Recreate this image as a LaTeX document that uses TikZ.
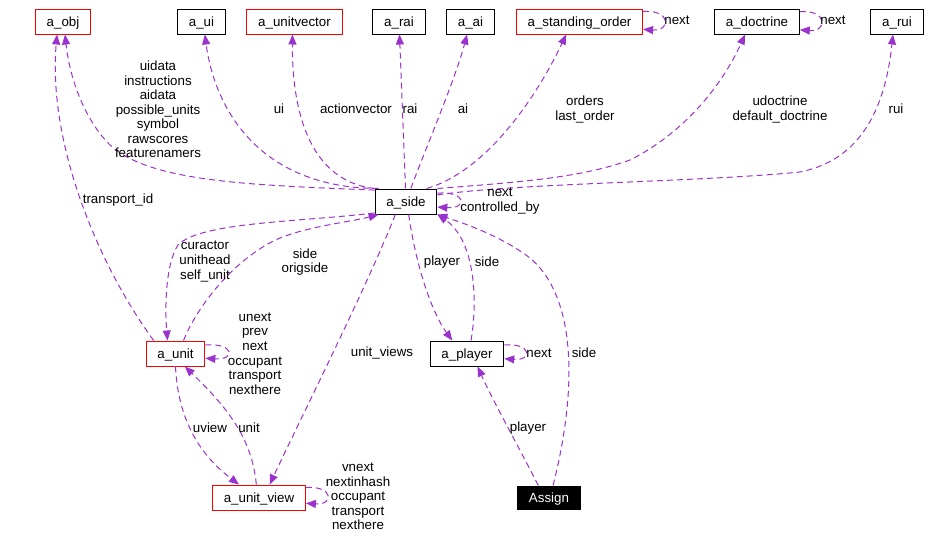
\documentclass[tikz,border=0pt]{standalone}
\usepackage{fontspec}
\setmainfont{Liberation Sans}
\usetikzlibrary{arrows.meta}
\definecolor{lienviolet}{RGB}{154,50,205}
\tikzset{
	boite/.style={draw=black, line width=0.75pt, minimum height=18.75pt, inner xsep=8.4pt, inner ysep=0pt, text height=8.1pt, text depth=0.3pt, font=\fontsize{10}{12}\selectfont},
	boiterouge/.style={boite, draw=red},
	lien/.style={draw=lienviolet, line width=0.75pt, dash pattern=on 4.5pt off 3pt, -{Triangle[length=7.5pt,width=6pt]}},
	etiq/.style={align=center, inner sep=0pt, font=\fontsize{10}{10.9}\selectfont},
}
\begin{document}
\begin{tikzpicture}[x=0.75pt,y=-0.75pt]
		\useasboundingbox (0,0) rectangle (929,540);
		%classes
		\node[boiterouge] (aobj) at (63,21.5) {a\_obj};
		\node[boite] (aui) at (201.5,21.5) {a\_ui};
		\node[boiterouge] (aunitvector) at (294.5,21.5) {a\_unitvector};
		\node[boite] (arai) at (399,21.5) {a\_rai};
		\node[boite] (aai) at (470.5,21.5) {a\_ai};
		\node[boiterouge] (astanding) at (579.5,21.5) {a\_standing\_order};
		\node[boite] (adoctrine) at (757,21.5) {a\_doctrine};
		\node[boite] (arui) at (897,21.5) {a\_rui};
		\node[boite] (aside) at (406,201.5) {a\_side};
		\node[boiterouge] (aunit) at (175.5,353.5) {a\_unit};
		\node[boite] (aplayer) at (467,353.5) {a\_player};
		\node[boiterouge] (aunitview) at (259,497.5) {a\_unit\_view};
		\node[boite, minimum height=17.25pt, fill=black, text=white] (assign) at (549,497.5) {Assign};
		%liens vers le haut
		\draw[lien] (aside.160) .. controls (250,185) and (150,182) .. (110,145) .. controls (85,120) and (70,80) .. ([xshift=1.5pt]aobj.south);
		\draw[lien] ([xshift=6pt]aunit.north west) .. controls (95,260) and (48,140) .. ([xshift=-4.5pt]aobj.south);
		\draw[lien] ([xshift=3pt]aside.north west) .. controls (260,188) and (215,110) .. ([xshift=2.5pt]aui.south);
		\draw[lien] (aside.north west) .. controls (300,180) and (292,90) .. ([xshift=-1.5pt]aunitvector.south);
		\draw[lien] (aside) -- (arai);
		\draw[lien] (aside) .. controls (425,150) and (455,80) .. (aai);
		\draw[lien] ([xshift=-8pt]aside.north east) .. controls (490,170) and (540,90) .. ([xshift=-10pt]astanding.south);
		\draw[lien] (aside.north east) .. controls (520,182) and (580,178) .. (630,160) .. controls (680,135) and (720,90) .. ([xshift=-9pt]adoctrine.south);
		\draw[lien] (aside.12) .. controls (520,183) and (700,182) .. (800,172) .. controls (860,160) and (885,110) .. ([xshift=-3pt]arui.south);
		%boucles
		\draw[lien] (astanding.9) .. controls +(28,-2) and +(28,2) .. (astanding.-7);
		\draw[lien] (adoctrine.13) .. controls +(28,-2) and +(28,2) .. (adoctrine.-11);
		\draw[lien] (aside.15) .. controls +(30,-2) and +(30,2) .. (aside.-10);
		\draw[lien] (aunit.16) .. controls +(30,-2) and +(30,2) .. (aunit.-9);
		\draw[lien] (aplayer.13) .. controls +(28,-2) and +(28,2) .. (aplayer.-8);
		\draw[lien] (aunitview.12) .. controls +(28,-2) and +(28,2) .. (aunitview.-7);
		%liens vers le bas
		\draw[lien] (aside.200) .. controls (300,222) and (200,222) .. (178,245) .. controls (165,265) and (165,310) .. ([xshift=-6pt]aunit.north);
		\draw[lien] ([xshift=6pt]aunit.north) .. controls (200,300) and (240,255) .. (280,238) .. controls (310,226) and (350,222) .. ([xshift=3pt]aside.south west);
		\draw[lien] ([xshift=2pt]aside.south) .. controls (415,260) and (430,310) .. ([xshift=-11pt]aplayer.north);
		\draw[lien] ([xshift=3pt]aplayer.north) .. controls (478,300) and (475,240) .. (aside.south east);
		\draw[lien] ([xshift=3pt]assign.north) .. controls (575,400) and (580,300) .. (530,258) .. controls (500,235) and (460,222) .. (aside.south east);
		\draw[lien] ([xshift=-8pt]assign.north) .. controls (515,440) and (490,395) .. ([xshift=8pt]aplayer.south);
		\draw[lien] ([xshift=-8pt]aside.south) .. controls (370,280) and (300,420) .. ([xshift=8pt]aunitview.north);
		\draw[lien] (aunit.south) .. controls (178,420) and (200,455) .. ([xshift=-15pt]aunitview.north);
		\draw[lien] ([xshift=-2pt]aunitview.north) .. controls (252,440) and (230,410) .. ([xshift=7pt]aunit.south);
		%étiquettes
		\node[etiq] (luidata) at (158,109.5) {uidata\\instructions\\aidata\\possible\_units\\symbol\\rawscores\\featurenamers};
		\node[etiq] (ltransport) at (118,200) {transport\_id};
		\node[etiq] (lui) at (279,109) {ui};
		\node[etiq] (laction) at (356,109) {actionvector};
		\node[etiq] (lrai) at (410,109) {rai};
		\node[etiq] (lai) at (463,109) {ai};
		\node[etiq] (lorders) at (585,109.5) {orders\\last\_order};
		\node[etiq] (ldoctrine) at (780,109.5) {udoctrine\\default\_doctrine};
		\node[etiq] (lrui) at (896,109) {rui};
		\node[etiq] (lnexta) at (677,20) {next};
		\node[etiq] (lnextb) at (833,20) {next};
		\node[etiq] (lcontrolled) at (500,201) {next\\controlled\_by};
		\node[etiq] (lcuractor) at (205,261.5) {curactor\\unithead\\self\_unit};
		\node[etiq] (lorigside) at (305,262) {side\\origside};
		\node[etiq] (lplayera) at (442,262) {player};
		\node[etiq] (lsidea) at (487,262) {side};
		\node[etiq] (lviews) at (382,353) {unit\_views};
		\node[etiq] (lnextc) at (539,353) {next};
		\node[etiq] (lsideb) at (584,353) {side};
		\node[etiq] (lplayerb) at (528,428) {player};
		\node[etiq] (lunext) at (255,353.5) {unext\\prev\\next\\occupant\\transport\\nexthere};
		\node[etiq] (luview) at (210,428) {uview};
		\node[etiq] (lunit) at (249,428) {unit};
		\node[etiq] (lvnext) at (358,496.5) {vnext\\nextinhash\\occupant\\transport\\nexthere};
	\end{tikzpicture}
\end{document}
